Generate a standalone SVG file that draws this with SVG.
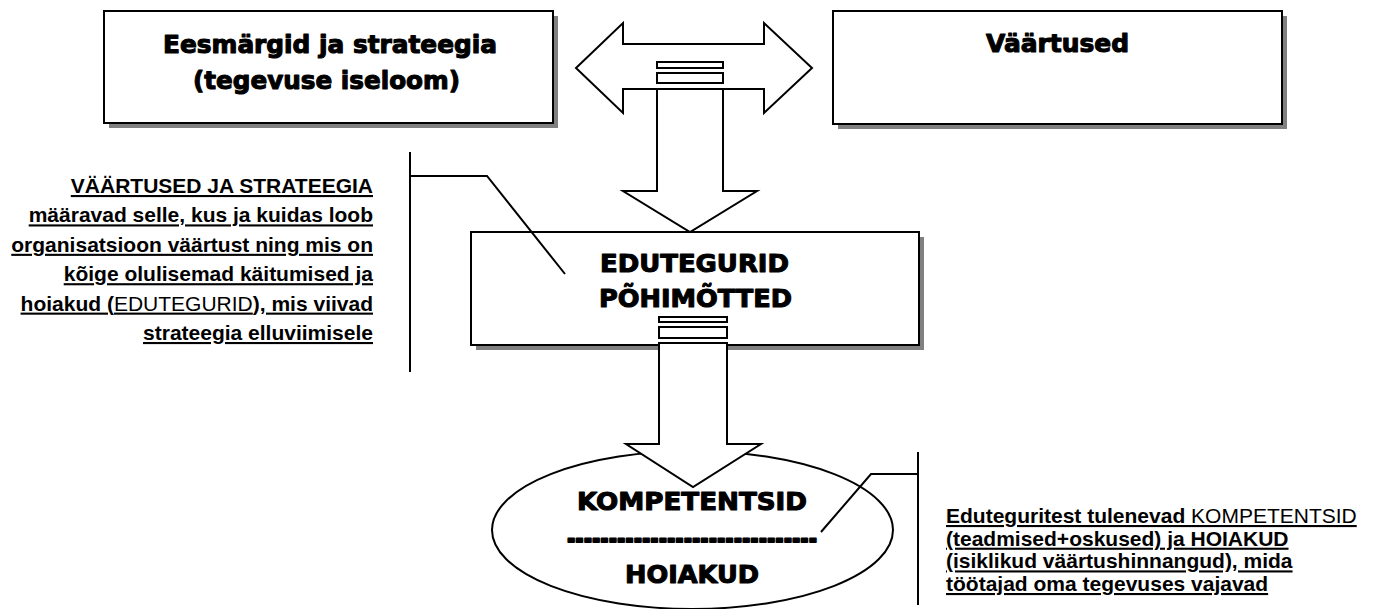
<svg xmlns="http://www.w3.org/2000/svg" width="1389" height="609" viewBox="0 0 1389 609">
<style>
.box{fill:#fff;stroke:#000;stroke-width:2}
.shadow{fill:#808080}
.arrow{fill:#fff;stroke:#000;stroke-width:2;stroke-linejoin:miter}
.line{fill:none;stroke:#000;stroke-width:2}
.title{font-family:"DejaVu Sans",sans-serif;font-weight:bold;font-size:25px;fill:#000;stroke:#000;stroke-width:1.1;stroke-linejoin:round}
.note{font-family:"Liberation Sans",Arial,sans-serif;font-size:21px;font-weight:bold;fill:#000;text-decoration:underline}
.reg{font-weight:normal}
</style>
<rect width="1389" height="609" fill="#fff"/>

<g id="node-goals">
<rect class="shadow" x="109" y="16" width="449" height="112"/>
<rect class="box" x="104" y="11" width="449" height="112"/>
<text class="title" x="163" y="53" textLength="334" lengthAdjust="spacingAndGlyphs">Eesmärgid ja strateegia</text>
<text class="title" x="193" y="89" textLength="267" lengthAdjust="spacingAndGlyphs">(tegevuse iseloom)</text>
</g>

<g id="node-values">
<rect class="shadow" x="838" y="16" width="449" height="113"/>
<rect class="box" x="833" y="11" width="449" height="113"/>
<text class="title" x="986" y="52" textLength="143" lengthAdjust="spacingAndGlyphs">Väärtused</text>
</g>

<g id="node-success-factors">
<rect class="shadow" x="476" y="237" width="448" height="113"/>
<rect class="box" x="471" y="232" width="448" height="113"/>
<text class="title" x="600" y="272" textLength="189" lengthAdjust="spacingAndGlyphs">EDUTEGURID</text>
<text class="title" x="599" y="307" textLength="193" lengthAdjust="spacingAndGlyphs">PÕHIMÕTTED</text>
</g>

<g id="node-competences">
<ellipse class="box" cx="692.5" cy="530" rx="200.5" ry="79"/>
<text class="title" x="577" y="510" textLength="230" lengthAdjust="spacingAndGlyphs">KOMPETENTSID</text>
<text class="title" x="567" y="547" textLength="250" lengthAdjust="spacingAndGlyphs" style="stroke-width:1.8">------------------------------</text>
<text class="title" x="625" y="583" textLength="134" lengthAdjust="spacingAndGlyphs">HOIAKUD</text>
</g>

<g id="node-note-left">
<text class="note" text-anchor="end"><tspan x="373" y="193">VÄÄRTUSED JA STRATEEGIA</tspan><tspan x="373" y="222.4">määravad selle, kus ja kuidas loob</tspan><tspan x="373" y="251.8">organisatsioon väärtust ning mis on</tspan><tspan x="373" y="281.2">kõige olulisemad käitumised ja</tspan><tspan x="373" y="310.6">hoiakud (<tspan class="reg">EDUTEGURID</tspan>), mis viivad</tspan><tspan x="373" y="340">strateegia elluviimisele</tspan></text>
</g>

<g id="node-note-right">
<text class="note"><tspan x="946" y="523">Eduteguritest tulenevad <tspan class="reg">KOMPETENTSID</tspan></tspan><tspan x="946" y="545.7">(teadmised+oskused) ja HOIAKUD</tspan><tspan x="946" y="568.4">(isiklikud väärtushinnangud), mida</tspan><tspan x="946" y="591">töötajad oma tegevuses vajavad</tspan></text>
</g>

<g id="connectors">
<path class="arrow" d="M576,68 L623,23 L623,44 L764,44 L764,23 L812,68 L764,113 L764,89 L623,89 L623,113 Z"/>
<rect class="arrow" x="657" y="62" width="66" height="6"/>
<rect class="arrow" x="657" y="73" width="66" height="10"/>
<path class="arrow" d="M657,89 L723,89 L723,191 L757,191 L690,232 L623,191 L657,191 Z"/>

<rect class="arrow" x="659" y="317" width="68" height="5"/>
<rect class="arrow" x="659" y="327" width="68" height="11"/>
<path class="arrow" d="M659,343 L727,343 L727,444 L761,444 L693,487 L626,444 L659,444 Z"/>

<path class="line" d="M410,152 L410,372 M410,176 L487,176 L565,274"/>
<path class="line" d="M918,452 L918,605 M918,474 L871,474 L821,532"/>
</g>
</svg>
